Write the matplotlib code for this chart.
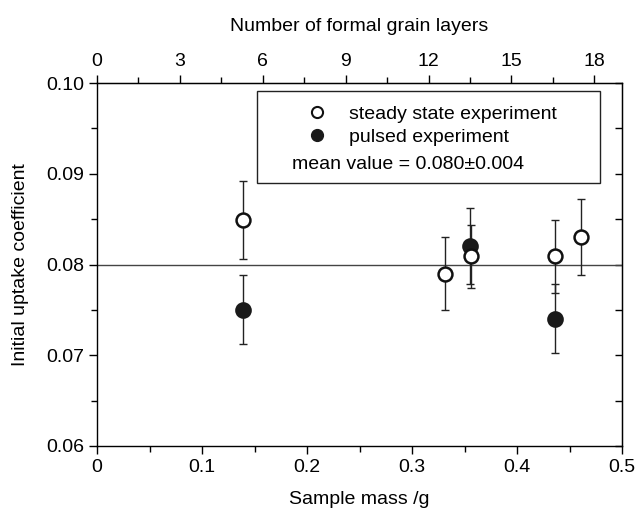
import matplotlib
matplotlib.use("Agg")
import matplotlib.pyplot as plt
from matplotlib.patches import Rectangle
from matplotlib.ticker import MultipleLocator

plt.rcParams['font.family'] = ['Liberation Sans', 'DejaVu Sans']

# data
steady_mass = [0.139, 0.331, 0.356, 0.436, 0.461]
steady_val = [0.0849, 0.0790, 0.0809, 0.0809, 0.0830]
steady_err = [0.0043, 0.0040, 0.0035, 0.0040, 0.0042]

pulsed_mass = [0.139, 0.355, 0.436]
pulsed_val = [0.0750, 0.0820, 0.0740]
pulsed_err = [0.0038, 0.0042, 0.0038]

mean_value = 0.080
mean_err = 0.004
layers_per_gram = 38.0

FS = 14

fig = plt.figure(figsize=(6.37, 5.15), dpi=100)
ax = fig.add_axes([97/637, 1-446/515, 525/637, 363/515])

ax.axhline(mean_value, color='#444444', lw=1.0, zorder=1)

ax.errorbar(pulsed_mass, pulsed_val, yerr=pulsed_err, fmt='none', ecolor='#222222',
            elinewidth=1.0, capsize=3, capthick=1.0, zorder=2)
ax.errorbar(steady_mass, steady_val, yerr=steady_err, fmt='none', ecolor='#222222',
            elinewidth=1.0, capsize=3, capthick=1.0, zorder=2)
ax.plot(pulsed_mass, pulsed_val, 'o', ms=10.5, mfc='#1a1a1a', mec='#1a1a1a', mew=1.5,
        ls='none', zorder=3, label='pulsed experiment')
ax.plot(steady_mass, steady_val, 'o', ms=10, mfc='white', mec='#111111', mew=1.8,
        ls='none', zorder=4, label='steady state experiment')

ax.set_xlim(0, 0.5)
ax.set_ylim(0.06, 0.10)
ax.xaxis.set_minor_locator(MultipleLocator(0.05))
ax.yaxis.set_minor_locator(MultipleLocator(0.005))
ax.set_xticks([0, 0.1, 0.2, 0.3, 0.4, 0.5])
ax.set_xticklabels(['0', '0.1', '0.2', '0.3', '0.4', '0.5'])
ax.set_yticks([0.06, 0.07, 0.08, 0.09, 0.10])
ax.set_yticklabels(['0.06', '0.07', '0.08', '0.09', '0.10'])
ax.tick_params(which='major', direction='out', length=6, width=1, labelsize=FS)
ax.tick_params(which='minor', direction='out', length=4, width=1)
for s in ax.spines.values():
    s.set_linewidth(1.0)

ax.set_xlabel('Sample mass /g', fontsize=FS, labelpad=11)
ax.set_ylabel('Initial uptake coefficient', fontsize=FS, labelpad=12)

# right axis ticks (inward, no labels)
ry = ax.secondary_yaxis('right')
ry.yaxis.set_major_locator(MultipleLocator(0.005))
ry.tick_params(direction='in', length=5, width=1, labelright=False)

# top axis
top = ax.secondary_xaxis('top', functions=(lambda m: m * layers_per_gram,
                                           lambda n: n / layers_per_gram))
top.set_xticks([0, 3, 6, 9, 12, 15, 18])
top.xaxis.set_minor_locator(MultipleLocator(1.5))
top.tick_params(which='major', direction='out', length=6, width=1, labelsize=FS)
top.tick_params(which='minor', direction='out', length=4, width=1)
top.set_xlabel('Number of formal grain layers', fontsize=FS, labelpad=16)

# legend box
ax.add_patch(Rectangle((0.305, 0.7245), 0.653, 0.2535, transform=ax.transAxes,
                       fill=False, ec='#222222', lw=1.0, zorder=5))
h1 = ax.plot([], [], 'o', ms=8, mfc='white', mec='#111111', mew=1.5, ls='none')[0]
h2 = ax.plot([], [], 'o', ms=8.5, mfc='#1a1a1a', mec='#1a1a1a', ls='none')[0]
ax.legend([h1, h2], ['steady state experiment', 'pulsed experiment'],
          loc='upper left', bbox_to_anchor=(0.375, 0.977), frameon=False,
          fontsize=FS, handlelength=1.0, handletextpad=1.15, labelspacing=0.3,
          borderpad=0.2)
ax.text(0.372, 0.762, f'mean value = {mean_value:.3f}\u00b1{mean_err:.3f}',
        transform=ax.transAxes, fontsize=FS, ha='left', va='baseline')

fig.savefig('out.png', dpi=100)
